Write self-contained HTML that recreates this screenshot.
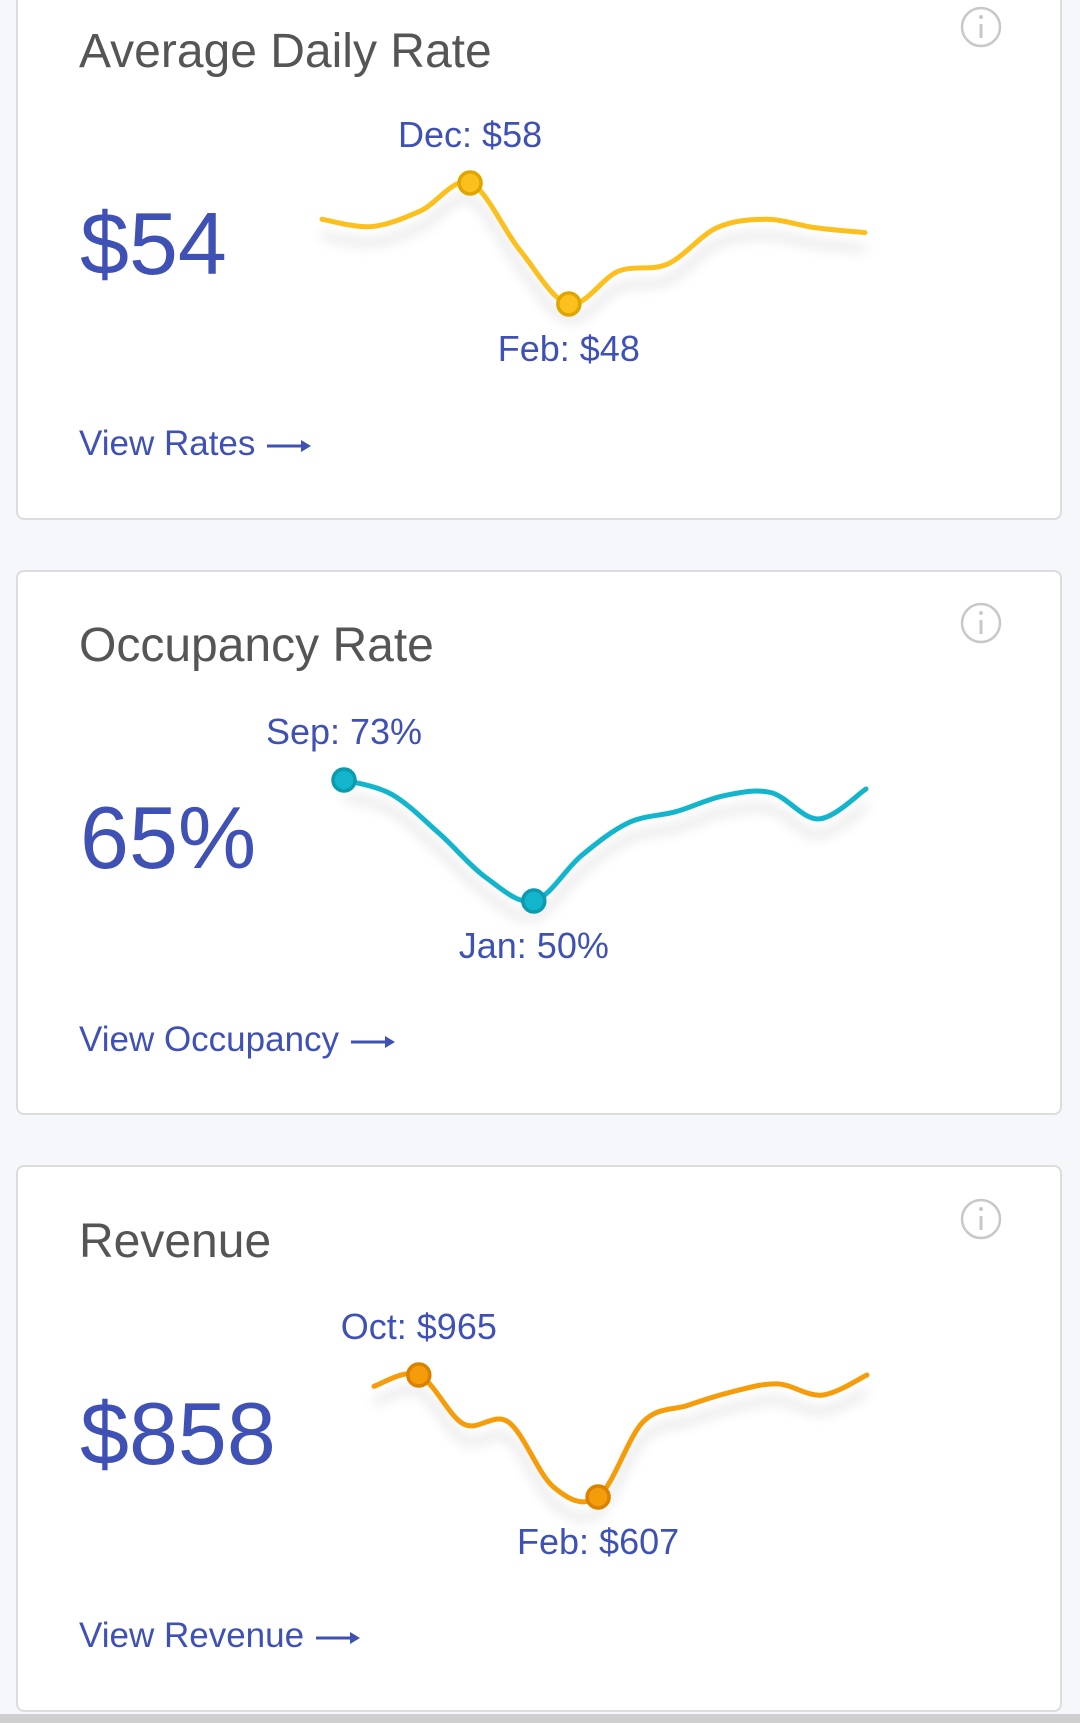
<!DOCTYPE html>
<html><head><meta charset="utf-8">
<style>
body{margin:0;width:1080px;height:1723px;background:#f6f7fb;position:relative;overflow:hidden;font-family:"Liberation Sans",sans-serif}
.card{position:absolute;left:16px;width:1046px;background:#fff;border:2px solid #dcdcdc;border-radius:8px;box-sizing:border-box}
.t{position:absolute;left:79px;font-size:48px;color:#555;white-space:nowrap}
.v{position:absolute;left:80px;font-size:88px;color:#3f51b5;white-space:nowrap}
.l{position:absolute;left:79px;font-size:35px;color:#3f51b5;white-space:nowrap}
.l svg{position:static;margin-left:10px;vertical-align:middle}
#bar{position:absolute;left:0;top:1714px;width:1080px;height:9px;background:#cfcfcf}
#s{position:absolute;left:0;top:0}
</style></head><body>
<div class="card" style="top:-10px;height:530px"></div>
<div class="card" style="top:570px;height:545px"></div>
<div class="card" style="top:1165px;height:547px"></div>
<div id="bar"></div>

<div class="t" style="top:24px">Average Daily Rate</div>
<div class="v" style="top:193px">$54</div>
<div class="l" style="top:424px">View Rates<svg width="48" height="16"><line x1="2" y1="8" x2="40" y2="8" stroke="#3f51b5" stroke-width="3"/><polygon points="36,2 46,8 36,14" fill="#3f51b5"/></svg></div>

<div class="t" style="top:618px">Occupancy Rate</div>
<div class="v" style="top:787px">65%</div>
<div class="l" style="top:1020px">View Occupancy<svg width="48" height="16"><line x1="2" y1="8" x2="40" y2="8" stroke="#3f51b5" stroke-width="3"/><polygon points="36,2 46,8 36,14" fill="#3f51b5"/></svg></div>

<div class="t" style="top:1214px">Revenue</div>
<div class="v" style="top:1383px">$858</div>
<div class="l" style="top:1616px">View Revenue<svg width="48" height="16"><line x1="2" y1="8" x2="40" y2="8" stroke="#3f51b5" stroke-width="3"/><polygon points="36,2 46,8 36,14" fill="#3f51b5"/></svg></div>

<svg id="s" width="1080" height="1723">
<defs><filter id="sh" x="-10%" y="-50%" width="120%" height="200%"><feGaussianBlur stdDeviation="6"/></filter></defs>
</svg>
<script>
const months=["Sep","Oct","Nov","Dec","Jan","Feb","Mar","Apr","May","Jun","Jul","Aug"];
const adrValues=[55.0,54.4,55.7,58,52.5,48,50.7,51.3,54.3,55,54.3,53.9];
const occValues=[73,70.3,62.9,54.4,50,58.6,64.9,67,70,70.6,65.6,71.3];
const revValues=[932,965,821,827,637,607,827,876,916,939,906,965];
const adrFmt=v=>"$"+Math.round(v), occFmt=v=>Math.round(v)+"%", revFmt=v=>"$"+Math.round(v);
const NS="http://www.w3.org/2000/svg", svg=document.getElementById('s');
function mk(t,a){const e=document.createElementNS(NS,t);for(const k in a)e.setAttribute(k,a[k]);svg.appendChild(e);return e;}
function draw(name,vals,x0,x1,yTop,yBot,color,dark,fmt){
  const mx=Math.max(...vals),mn=Math.min(...vals);
  const xs=i=>x0+(x1-x0)*i/(vals.length-1);
  const ys=v=>yBot-(v-mn)/(mx-mn||1)*(yBot-yTop);
  const p=vals.map((v,i)=>[xs(i),ys(v)]);
  let d="M"+p[0][0]+","+p[0][1];
  for(let i=0;i<p.length-1;i++){const a=p[Math.max(i-1,0)],b=p[i],c=p[i+1],e=p[Math.min(i+2,p.length-1)];
    d+=` C${b[0]+(c[0]-a[0])/6},${b[1]+(c[1]-a[1])/6} ${c[0]-(e[0]-b[0])/6},${c[1]-(e[1]-b[1])/6} ${c[0]},${c[1]}`;}
  const sh=mk('path',{d:d,fill:'none',stroke:'#000','stroke-opacity':0.12,'stroke-width':6,filter:'url(#sh)',transform:'translate(0,16)'});
  
  
  const ln=mk('path',{d:d,fill:'none',stroke:color,'stroke-width':5,'stroke-linecap':'round'});
  
  
  const iMax=vals.indexOf(mx),iMin=vals.indexOf(mn);
  [[iMax,-36],[iMin,57]].forEach(([i,off])=>{
    const c=mk('circle',{cx:xs(i),cy:ys(vals[i]),r:11,fill:color,stroke:dark,'stroke-width':3.5});
    
    
    const t=mk('text',{x:xs(i),y:ys(vals[i])+off,'text-anchor':'middle','font-size':36,fill:'#3f51b5','font-family':'Liberation Sans, sans-serif'});
    t.textContent=months[i]+": "+fmt(vals[i]);
    
    
  });
}
draw('adr',adrValues,322,865,183,304,'#fbbf1e','#e0a600',adrFmt);
draw('occupancy',occValues,344,866,780,901,'#12b5cb','#0a9bb0',occFmt);
draw('revenue',revValues,374,867,1375,1497,'#f59c0b','#d98200',revFmt);
[27,623,1219].forEach((cy,k)=>{
  const c=mk('circle',{cx:981,cy:cy,r:19,fill:'none',stroke:'#c8c8c8','stroke-width':2.5});
  
  
  const a=mk('line',{x1:981,y1:cy-3,x2:981,y2:cy+11,stroke:'#c8c8c8','stroke-width':3});
  
  
  const b=mk('circle',{cx:981,cy:cy-10,r:2,fill:'#c8c8c8'});
  
  
});
</script>
</body></html>
